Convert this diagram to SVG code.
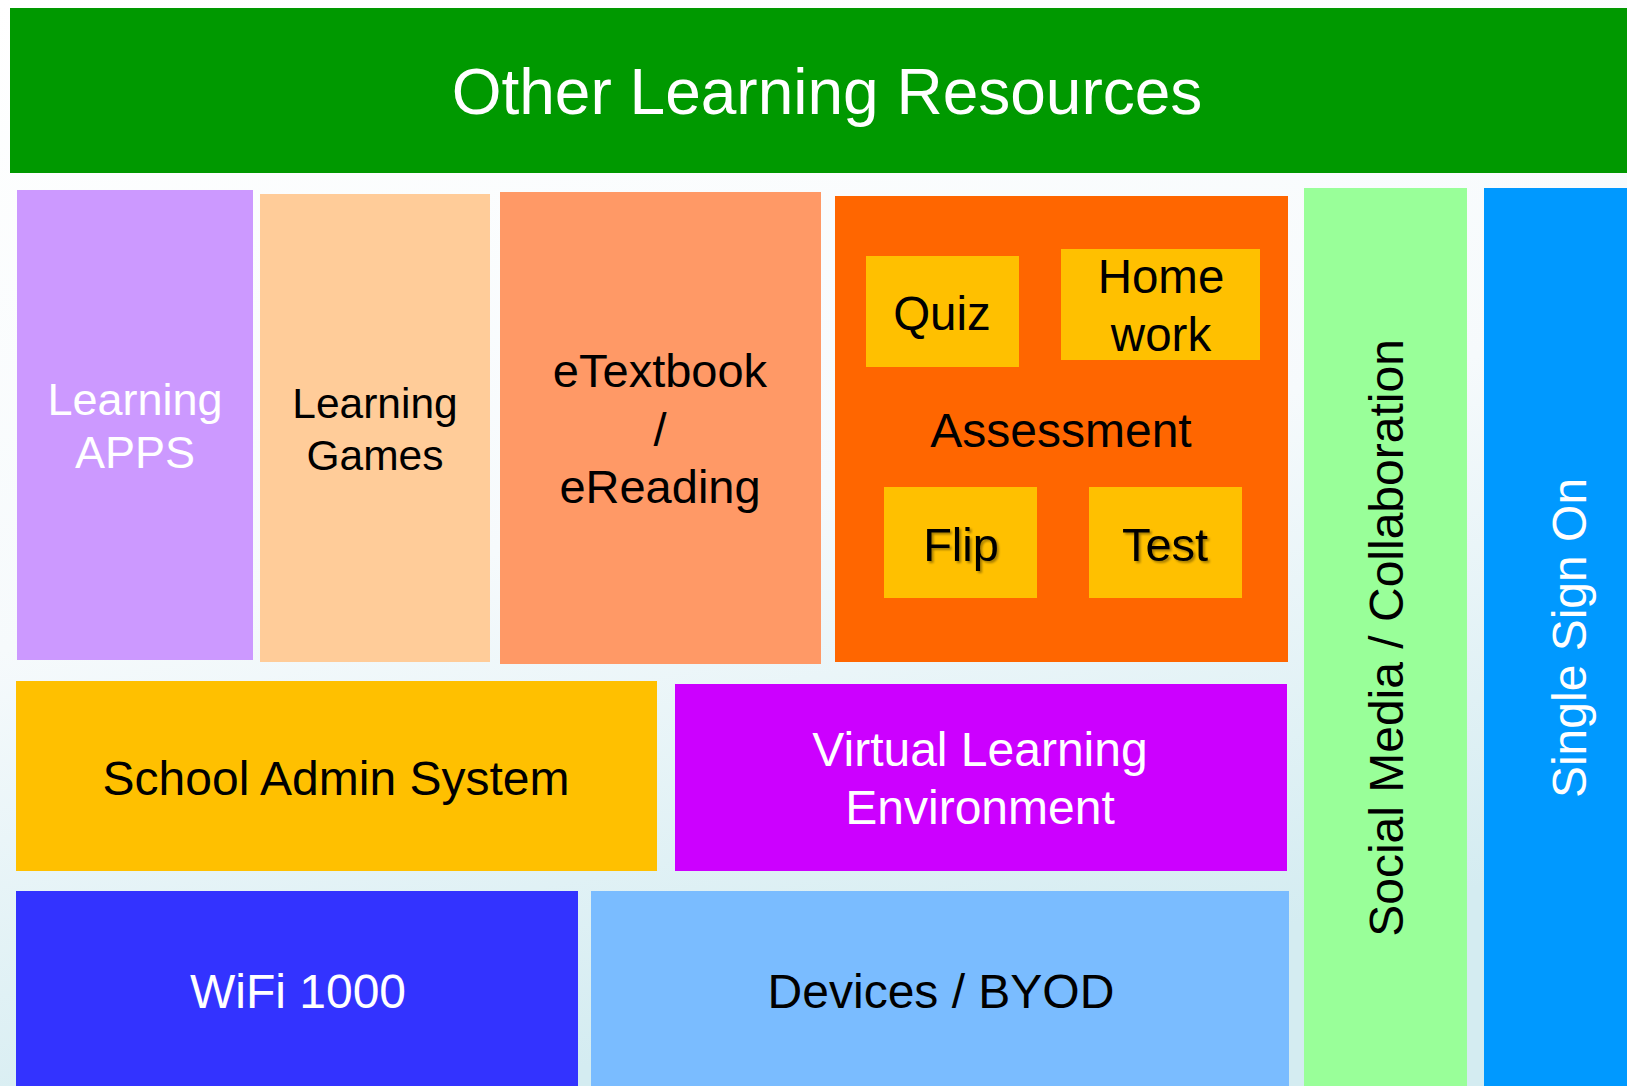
<svg xmlns="http://www.w3.org/2000/svg" width="1627" height="1086" viewBox="0 0 1627 1086">
<defs>
<linearGradient id="bg" x1="0" y1="0" x2="0.3" y2="1">
<stop offset="0" stop-color="#ffffff"/>
<stop offset="0.55" stop-color="#f6fafc"/>
<stop offset="1" stop-color="#d4ecf1"/>
</linearGradient>
<filter id="sh" x="-10%" y="-10%" width="130%" height="130%">
<feDropShadow dx="2" dy="2" stdDeviation="1" flood-color="#000" flood-opacity="0.35"/>
</filter>
<style>
text{font-family:"Liberation Sans",Arial,sans-serif;text-anchor:middle}
.w{fill:#ffffff}
.k{fill:#000000}
.f47{font-size:48px}
</style>
</defs>
<rect width="1627" height="1086" fill="url(#bg)"/>
<g id="other-learning-resources">
<rect x="10" y="8" width="1617" height="165" fill="#009900"/>
<text x="827" y="114" class="w" font-size="64">Other Learning Resources</text>
</g>
<g id="learning-apps">
<rect x="17" y="190" width="236" height="470" fill="#cc99ff"/>
<text x="135" y="415" class="w" font-size="45">Learning</text>
<text x="135" y="468" class="w" font-size="45">APPS</text>
</g>
<g id="learning-games">
<rect x="260" y="194" width="230" height="468" fill="#ffcc99"/>
<text x="375" y="418" class="k" font-size="42.5">Learning</text>
<text x="375" y="470" class="k" font-size="42.5">Games</text>
</g>
<g id="etextbook">
<rect x="500" y="192" width="321" height="472" fill="#ff9966"/>
<text x="660" y="387" class="k" font-size="47">eTextbook</text>
<text x="660" y="446" class="k" font-size="47">/</text>
<text x="660" y="503" class="k" font-size="47">eReading</text>
</g>
<g id="assessment">
<rect x="835" y="196" width="453" height="466" fill="#ff6600"/>
<text x="1061" y="447" class="k" font-size="48">Assessment</text>
</g>
<g id="quiz">
<rect x="866" y="256" width="153" height="111" fill="#ffc000"/>
<text x="942" y="330" class="k" font-size="47.5">Quiz</text>
</g>
<g id="homework">
<rect x="1061" y="249" width="199" height="111" fill="#ffc000"/>
<text x="1161" y="293" class="k" font-size="47.5">Home</text>
<text x="1161" y="351" class="k" font-size="47.5">work</text>
</g>
<g id="flip">
<rect x="884" y="487" width="153" height="111" fill="#ffc000"/>
<text x="961" y="561" class="k" font-size="47" filter="url(#sh)">Flip</text>
</g>
<g id="test">
<rect x="1089" y="487" width="153" height="111" fill="#ffc000"/>
<text x="1165" y="561" class="k" font-size="47" filter="url(#sh)">Test</text>
</g>
<g id="school-admin-system">
<rect x="16" y="681" width="641" height="190" fill="#ffc000"/>
<text x="336" y="795" class="k f47">School Admin System</text>
</g>
<g id="virtual-learning-environment">
<rect x="675" y="684" width="612" height="187" fill="#cc00ff"/>
<text x="980" y="766" class="w f47">Virtual Learning</text>
<text x="980" y="824" class="w f47">Environment</text>
</g>
<g id="wifi-1000">
<rect x="16" y="891" width="562" height="195" fill="#3333ff"/>
<text x="298" y="1008" class="w f47">WiFi 1000</text>
</g>
<g id="devices-byod">
<rect x="591" y="891" width="698" height="195" fill="#7abcff"/>
<text x="941" y="1008" class="k f47">Devices / BYOD</text>
</g>
<g id="social-media-collaboration">
<rect x="1304" y="188" width="163" height="898" fill="#99ff99"/>
<text transform="translate(1403 638) rotate(-90)" class="k f47">Social Media / Collaboration</text>
</g>
<g id="single-sign-on">
<rect x="1484" y="188" width="143" height="898" fill="#0099ff"/>
<text transform="translate(1586 638) rotate(-90)" class="w f47">Single Sign On</text>
</g>
<g id="connectors"/>
</svg>
